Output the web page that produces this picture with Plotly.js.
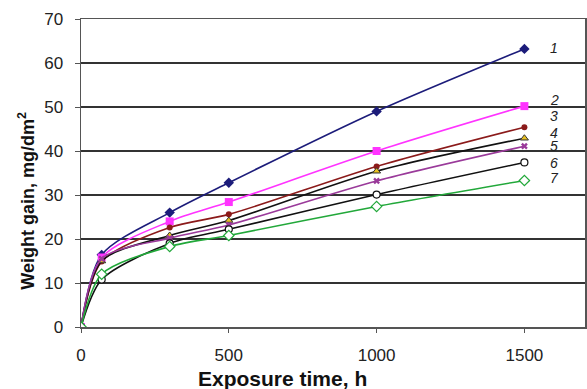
<!DOCTYPE html>
<html>
<head>
<meta charset="utf-8">
<script src="https://cdn.plot.ly/plotly-3.0.1.min.js"></script>
<style>html,body{margin:0;padding:0;background:#fff;}#chart{width:587px;height:389px;}</style>
</head>
<body>
<div id="chart"></div>
<script>
// Data
const hours = [0, 70, 300, 500, 1000, 1500];
const s1 = [0, 16.4, 26.0, 32.8, 49.0, 63.2];
const s2 = [0, 15.8, 24.0, 28.4, 40.0, 50.2];
const s3 = [0, 14.9, 22.6, 25.6, 36.5, 45.4];
const s4 = [0, 15.0, 20.8, 24.2, 35.4, 42.9];
const s5 = [0, 15.5, 20.2, 23.2, 33.2, 41.1];
const s6 = [0, 10.8, 19.0, 22.2, 30.1, 37.4];
const s7 = [0, 12.0, 18.3, 20.8, 27.4, 33.3];
const seriesNames = ["1", "2", "3", "4", "5", "6", "7"];
const labelY = [63.3, 51.6, 47.9, 44.0, 41.1, 37.3, 33.8];
const xTicks = [0, 500, 1000, 1500];
const yTicks = [0, 10, 20, 30, 40, 50, 60, 70];
const xTitle = "<b>Exposure time, h</b>";
const yTitle = "<b>Weight gain, mg/dm<sup>2</sup></b>";

const allSeries = [s1, s2, s3, s4, s5, s6, s7];
const styles = [
  {line: "#1c1c7a", marker: {symbol: "diamond", size: 8, color: "#1c1c7a"}},
  {line: "#ff33ff", marker: {symbol: "square", size: 8, color: "#ff33ff"}},
  {line: "#8b1a1a", marker: {symbol: "circle", size: 6, color: "#8b1a1a"}},
  {line: "#111111", marker: {symbol: "triangle-up", size: 7, color: "#e8c020", line: {color: "#333", width: 1}}},
  {line: "#9a3a9a", marker: {symbol: "x", size: 6, color: "#9a3a9a"}},
  {line: "#111111", marker: {symbol: "circle", size: 7, color: "#ffffff", line: {color: "#111", width: 1.2}}},
  {line: "#22a83a", marker: {symbol: "diamond", size: 8, color: "#ffffff", line: {color: "#22a83a", width: 1.2}}}
];

const traces = allSeries.map((ys, i) => ({
  x: hours, y: ys, name: seriesNames[i], type: "scatter", mode: "lines+markers",
  line: {color: styles[i].line, width: 1.6, shape: "spline", smoothing: 0.8},
  marker: styles[i].marker, showlegend: false, hoverinfo: "skip"
}));

const annotations = seriesNames.map((n, i) => ({
  x: 1580, y: labelY[i], xref: "x", yref: "y", text: "<i>" + n + "</i>",
  showarrow: false, xanchor: "left", yanchor: "middle",
  font: {family: "Liberation Sans, Arial, sans-serif", size: 14, color: "#222"}
}));
annotations.push({
  x: 0.40, y: 0, xref: "paper", yref: "paper", yshift: -51, text: xTitle,
  showarrow: false, xanchor: "center", yanchor: "middle",
  font: {family: "Liberation Sans, Arial, sans-serif", size: 21, color: "#111"}
});
annotations.push({
  x: 0, y: 0.41, xref: "paper", yref: "paper", xshift: -54, text: yTitle, textangle: -90,
  showarrow: false, xanchor: "center", yanchor: "middle",
  font: {family: "Liberation Sans, Arial, sans-serif", size: 18, color: "#111"}
});

const layout = {
  width: 587, height: 389,
  margin: {l: 81, r: 2, t: 19, b: 62},
  paper_bgcolor: "#ffffff", plot_bgcolor: "#ffffff",
  font: {family: "Liberation Sans, Arial, sans-serif", size: 17, color: "#222"},
  xaxis: {
    range: [0, 1705], tickvals: xTicks, ticks: "outside", ticklen: 4, tickcolor: "#555",
    showgrid: false, zeroline: false, showline: true, linecolor: "#555", linewidth: 1.5,
    mirror: true, ticklabelstandoff: 8,
    tickfont: {size: 17, color: "#222"}
  },
  yaxis: {
    range: [0, 70], tickvals: yTicks, ticks: "outside", ticklen: 5, tickcolor: "#555",
    showgrid: true, gridcolor: "#333", gridwidth: 1.5, zeroline: false,
    showline: true, linecolor: "#555", linewidth: 1.5, mirror: true,
    ticklabelstandoff: 8,
    tickfont: {size: 17, color: "#222"}
  },
  annotations: annotations
};

Plotly.newPlot("chart", traces, layout, {staticPlot: true, displayModeBar: false});
</script>
</body>
</html>
